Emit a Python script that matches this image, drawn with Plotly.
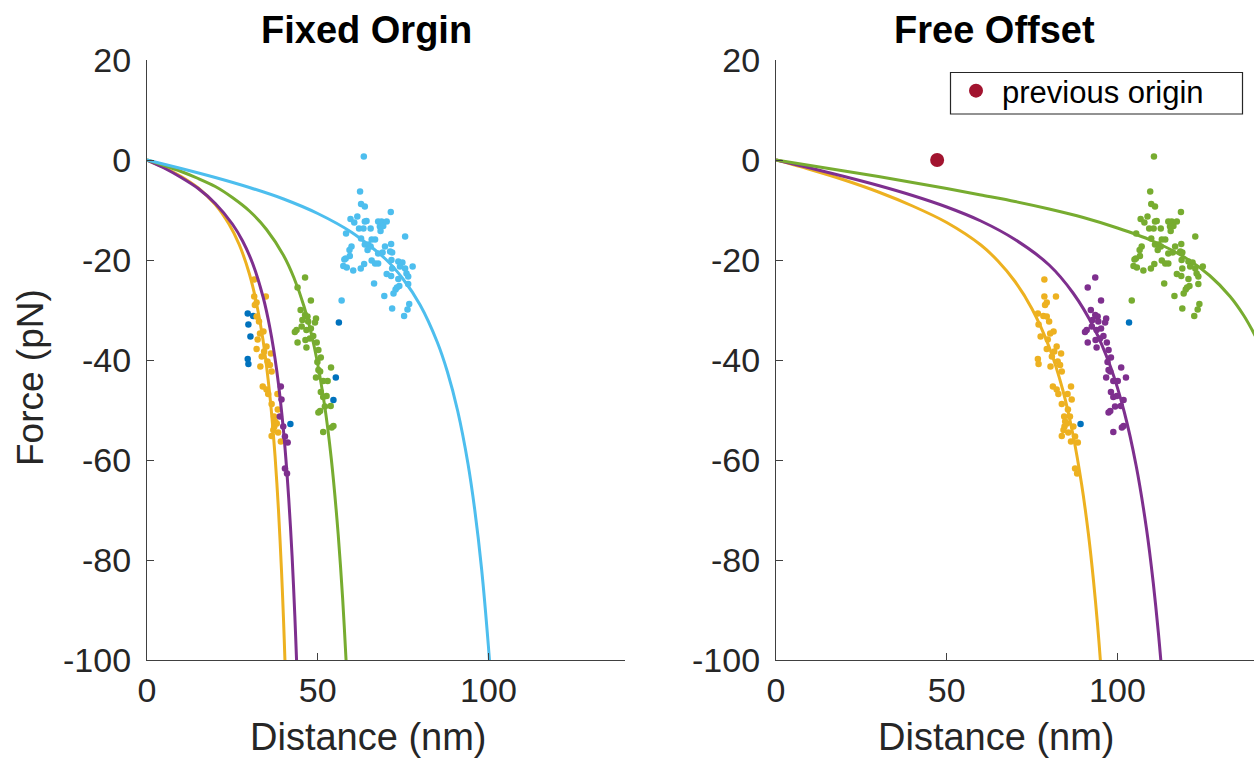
import plotly.graph_objects as go

# ---------------- data (distance in nm measured from the fixed origin, force in pN) -------------
previous_origin = 47.2   # shift of the origin found by the free-offset fit

# cluster A : light blue in "Fixed Orgin", green in "Free Offset"
clA_x = [63.5, 62.4, 62.7, 63.8, 71.4, 59.6, 61.6, 60.7, 63.8, 64.3, 62.1, 63.4, 65.5, 67.7, 68.7,
         70.2, 68.2, 69.2, 68.4, 58.3, 62.7, 65.8, 66.8, 75.6, 59.9, 59.3, 63.8, 64.8, 65.5, 69.7,
         71.5, 59.4, 58.2, 57.8, 67.7, 69.0, 71.2, 71.8, 71.6, 65.8, 66.8, 63.6, 57.5, 58.5, 60.4,
         62.6, 73.6, 74.8, 74.1, 75.6, 77.8, 71.8, 70.2, 71.5, 76.0, 76.5, 73.6, 66.5, 76.5, 73.9,
         72.8, 72.2, 69.5, 57.0, 76.8, 71.8, 76.3, 75.3, 64.6, 67.7, 73.2]
clA_y = [0.7, -6.3, -8.8, -9.3, -10.4, -11.8, -11.3, -12.5, -12.3, -12.2, -13.7, -13.7, -13.7, -12.3, -12.3,
         -12.3, -13.3, -13.2, -14.2, -14.7, -15.7, -15.9, -15.9, -15.3, -17.3, -18.0, -16.9, -16.9, -17.3, -17.3,
         -16.8, -19.2, -19.7, -19.9, -18.7, -18.5, -18.3, -18.5, -20.0, -20.1, -20.7, -20.8, -21.2, -21.5, -22.1,
         -21.7, -20.3, -20.5, -21.3, -21.7, -21.3, -21.7, -22.8, -23.2, -22.7, -23.3, -23.8, -24.7, -24.8, -25.2,
         -25.9, -26.7, -27.2, -28.1, -28.8, -29.7, -29.9, -31.2, -18.0, -20.7, -25.5]

# cluster B : green in "Fixed Orgin" (B = dark blue there), purple in "Free Offset"
clB_x = [46.3, 44.1, 48.0, 45.0, 46.3, 47.0, 49.5, 45.5, 47.2, 49.2, 43.8, 43.3, 46.7, 48.0, 48.7,
         46.4, 47.7, 44.1, 49.7, 46.7, 50.2, 50.9, 49.9, 50.2, 53.9, 50.7, 49.5, 51.6, 52.9, 55.3,
         50.9, 51.6, 54.6, 52.1, 53.8, 50.7, 50.2, 54.1, 54.6, 51.6, 45.3, 52.6]
clB_y = [-23.5, -25.5, -28.1, -30.0, -31.0, -31.3, -31.7, -32.0, -32.3, -32.5, -34.0, -34.4, -34.0, -33.7, -35.2,
         -36.0, -35.7, -36.5, -36.5, -37.5, -38.0, -39.5, -40.4, -42.0, -41.5, -42.3, -43.5, -44.2, -44.2, -43.5,
         -46.4, -47.4, -48.0, -49.3, -49.2, -50.2, -50.5, -53.5, -53.2, -54.4, -33.3, -47.2]
clB_fixed = ['G'] * 29 + ['B'] + ['G'] * 2 + ['B'] + ['G'] * 9

# cluster C : yellow / purple / dark blue in "Fixed Orgin", yellow in "Free Offset"
clC_x = [31.4, 31.4, 34.8, 32.1, 31.6, 29.5, 31.1, 32.1, 32.8, 29.7, 34.1, 33.1, 30.3, 32.4, 35.0,
         32.1, 36.3, 34.3, 33.6, 29.5, 29.7, 35.3, 36.0, 33.2, 36.5, 33.9, 35.0, 39.2, 35.5, 38.2,
         39.4, 36.5, 38.3, 37.2, 38.9, 37.5, 37.3, 39.9, 38.4, 36.5, 40.4, 39.2, 41.2, 40.4, 41.0,
         38.0, 37.0]
clC_y = [-23.9, -27.3, -27.3, -28.5, -29.0, -30.7, -31.2, -31.3, -32.3, -32.9, -34.3, -34.7, -35.3, -35.9, -37.3,
         -37.8, -38.7, -38.3, -39.3, -39.8, -40.8, -40.3, -41.0, -41.3, -42.3, -45.3, -45.9, -45.3, -46.8, -46.8,
         -47.9, -48.8, -49.9, -51.3, -51.3, -52.3, -53.3, -53.3, -54.5, -55.2, -55.3, -56.3, -56.5, -61.7, -62.7,
         -52.7, -54.0]
clC_fixed = ['Y', 'Y', 'Y', 'Y', 'Y', 'B', 'B', 'Y', 'Y', 'B', 'Y', 'Y', 'B', 'Y', 'Y',
             'Y', 'Y', 'Y', 'Y', 'B', 'B', 'Y', 'Y', 'Y', 'Y', 'Y', 'Y', 'P', 'Y', 'Y',
             'P', 'Y', 'Y', 'Y', 'P', 'Y', 'Y', 'P', 'Y', 'Y', 'P', 'Y', 'P', 'P', 'P',
             'Y', 'Y']

# unassigned points (dark blue in both panels)
outlier_x = [56.2, 42.0]
outlier_y = [-32.5, -52.8]

fix_yel_x = [0, 5, 10, 15, 20, 24, 27, 30, 32, 34, 36, 37.5, 38.5, 39.4, 40.0, 40.4, 40.6]
fix_yel_y = [0, -1.5, -3.3, -5.6, -8.9, -12.8, -16.9, -22.8, -28.4, -36.1, -47.2, -59.2, -69.9, -82.2, -92.2, -100, -104.3]
fix_pur_x = [0, 5, 10, 15, 20, 25, 28, 31, 34, 36, 38, 40, 41.5, 42.5, 43.3, 43.8, 44.1]
fix_pur_y = [0, -1.6, -3.5, -5.7, -8.7, -12.8, -16.2, -20.8, -27.4, -33.6, -42.1, -54.3, -67.6, -79.3, -91.2, -100, -106]
fix_grn_x = [0, 5, 10, 15, 20, 25, 30, 35, 40, 43, 46, 49, 52, 54, 56, 57.3, 58.3, 58.8]
fix_grn_y = [0, -1.1, -2.3, -3.7, -5.3, -7.5, -10.2, -13.9, -19.1, -23.5, -29.3, -37.4, -49.0, -59.9, -74.9, -87.7, -100, -107.2]
fix_lbl_x = [0, 10, 20, 30, 40, 50, 60, 70, 75, 80, 85, 88, 91, 94, 96, 98, 100, 100.5]
fix_lbl_y = [0, -1.7, -3.5, -5.5, -7.8, -10.7, -14.5, -19.9, -23.8, -29.0, -36.4, -42.4, -50.2, -60.7, -70.0, -81.8, -97.3, -101.9]

free_yel_x = [0, 10, 20, 30, 40, 50, 60, 65, 70, 75, 80, 84, 87, 89.5, 91.5, 93, 94.2, 95, 95.6]
free_yel_y = [0, -1.9, -4.0, -6.4, -9.2, -12.5, -17.0, -20.2, -24.3, -29.8, -37.4, -46.0, -55.0, -64.8, -74.8, -84.2, -93.1, -100, -105.7]
free_pur_x = [0, 10, 20, 30, 40, 50, 60, 70, 80, 87, 93, 98, 102, 105.5, 108.5, 110.5, 112, 112.7, 113.2]
free_pur_y = [0, -1.6, -3.3, -5.1, -7.1, -9.4, -12.2, -15.9, -21.0, -26.6, -33.4, -41.4, -50.4, -61.2, -73.7, -84.6, -94.6, -100, -104.2]
free_grn_x = [0, 10, 20, 30, 40, 50, 60, 70, 80, 90, 100, 110, 120, 127, 133, 137, 140, 141]
free_grn_y = [0, -1.1, -2.2, -3.3, -4.5, -5.7, -7.0, -8.3, -9.8, -11.5, -13.6, -16.1, -19.6, -23.1, -27.3, -31.1, -34.7, -36.1]

x_ticks = [0, 50, 100]
y_ticks = [20, 0, -20, -40, -60, -80, -100]
y_tick_text = ['20', '0', '-20', '-40', '-60', '-80', '-100']

# ---------------- styling ----------------
C = {'B': '#0072BD', 'Y': '#EDB120', 'P': '#7E2F8E', 'G': '#77AC30', 'L': '#4DBEEE', 'R': '#A2142F'}
FONT = 'Liberation Sans'
TXT = '#262626'
AX = '#404040'

fig = go.Figure()


def dots(xs, ys, color, xa, ya):
    fig.add_trace(go.Scatter(x=xs, y=ys, mode='markers', xaxis=xa, yaxis=ya,
                             marker=dict(size=6.5, color=color, line=dict(width=0)),
                             showlegend=False, hoverinfo='skip'))


def curve(xs, ys, color, xa, ya):
    fig.add_trace(go.Scatter(x=xs, y=ys, mode='lines', xaxis=xa, yaxis=ya,
                             line=dict(color=color, width=3, shape='spline', smoothing=0.8),
                             showlegend=False, hoverinfo='skip'))


def pick(xs, ys, labels, lab, shift=0.0):
    px = [x + shift for x, l in zip(xs, labels) if l == lab]
    py = [y for y, l in zip(ys, labels) if l == lab]
    return px, py


# ---- left panel: Fixed Orgin
bx, by = pick(clC_x, clC_y, clC_fixed, 'B')
bx2, by2 = pick(clB_x, clB_y, clB_fixed, 'B')
dots(bx + bx2 + outlier_x, by + by2 + outlier_y, C['B'], 'x', 'y')
yx, yy = pick(clC_x, clC_y, clC_fixed, 'Y')
dots(yx, yy, C['Y'], 'x', 'y')
px_, py_ = pick(clC_x, clC_y, clC_fixed, 'P')
dots(px_, py_, C['P'], 'x', 'y')
gx, gy = pick(clB_x, clB_y, clB_fixed, 'G')
dots(gx, gy, C['G'], 'x', 'y')
dots(clA_x, clA_y, C['L'], 'x', 'y')

curve(fix_yel_x, fix_yel_y, C['Y'], 'x', 'y')
curve(fix_pur_x, fix_pur_y, C['P'], 'x', 'y')
curve(fix_grn_x, fix_grn_y, C['G'], 'x', 'y')
curve(fix_lbl_x, fix_lbl_y, C['L'], 'x', 'y')

# ---- right panel: Free Offset (data shifted by the previous origin)
dots([x + previous_origin for x in outlier_x], outlier_y, C['B'], 'x2', 'y2')
dots([x + previous_origin for x in clC_x], clC_y, C['Y'], 'x2', 'y2')
dots([x + previous_origin for x in clB_x], clB_y, C['P'], 'x2', 'y2')
dots([x + previous_origin for x in clA_x], clA_y, C['G'], 'x2', 'y2')

curve(free_yel_x, free_yel_y, C['Y'], 'x2', 'y2')
curve(free_pur_x, free_pur_y, C['P'], 'x2', 'y2')
curve(free_grn_x, free_grn_y, C['G'], 'x2', 'y2')

fig.add_trace(go.Scatter(x=[previous_origin], y=[0], mode='markers', xaxis='x2', yaxis='y2',
                         marker=dict(size=14, color=C['R']), name='previous origin',
                         showlegend=True, hoverinfo='skip'))

axis_common = dict(showgrid=False, zeroline=False, showline=True, linecolor=AX, linewidth=1.3,
                   ticks='inside', ticklen=7, tickwidth=1.3, tickcolor=AX,
                   tickfont=dict(family=FONT, size=34, color=TXT), mirror=False)

W, H, ML, MT, PW, PH = 1254, 762, 147, 60, 1107, 600


def paper_x(px):
    return (px - ML) / PW


def paper_y(py):
    return 1 - (py - MT) / PH


fig.update_layout(
    width=W, height=H,
    margin=dict(l=ML, r=0, t=MT, b=H - MT - PH),
    paper_bgcolor='white', plot_bgcolor='white',
    font=dict(family=FONT, color=TXT),
    xaxis=dict(domain=[0, 0.4318], range=[0, 140], tickvals=x_ticks, anchor='y', **axis_common),
    yaxis=dict(domain=[0, 1], range=[-100, 20], tickvals=y_ticks, ticktext=y_tick_text, anchor='x',
               ticklabelstandoff=8, **axis_common),
    xaxis2=dict(domain=[0.5682, 1.0], range=[0, 140], tickvals=x_ticks, anchor='y2', **axis_common),
    yaxis2=dict(domain=[0, 1], range=[-100, 20], tickvals=y_ticks, ticktext=y_tick_text, anchor='x2',
                ticklabelstandoff=8, **axis_common),
    showlegend=True,
    legend=dict(x=paper_x(950), y=paper_y(64), xanchor='left', yanchor='top',
                bgcolor='rgba(0,0,0,0)', borderwidth=0, itemwidth=42,
                font=dict(family=FONT, size=31, color='black'), itemsizing='trace'),
    shapes=[dict(type='rect', xref='paper', yref='paper', layer='above',
                 x0=paper_x(950.5), x1=paper_x(1242.5), y0=paper_y(114), y1=paper_y(72.5),
                 line=dict(color=TXT, width=1.2), fillcolor='rgba(0,0,0,0)')],
)

ann = [
    dict(text='<b>Fixed Orgin</b>', x=paper_x(366.5), y=paper_y(30), xref='paper', yref='paper',
         showarrow=False, font=dict(family=FONT, size=38, color='black'), xanchor='center', yanchor='middle'),
    dict(text='<b>Free Offset</b>', x=paper_x(994.5), y=paper_y(30), xref='paper', yref='paper',
         showarrow=False, font=dict(family=FONT, size=38, color='black'), xanchor='center', yanchor='middle'),
    dict(text='Distance (nm)', x=paper_x(368.5), y=paper_y(737), xref='paper', yref='paper',
         showarrow=False, font=dict(family=FONT, size=38, color=TXT), xanchor='center', yanchor='middle'),
    dict(text='Distance (nm)', x=paper_x(996.5), y=paper_y(737), xref='paper', yref='paper',
         showarrow=False, font=dict(family=FONT, size=38, color=TXT), xanchor='center', yanchor='middle'),
    dict(text='Force (pN)', x=paper_x(30), y=paper_y(378), xref='paper', yref='paper', textangle=-90,
         showarrow=False, font=dict(family=FONT, size=37, color=TXT), xanchor='center', yanchor='middle'),
]
fig.update_layout(annotations=ann)

fig.write_html('out.html')
